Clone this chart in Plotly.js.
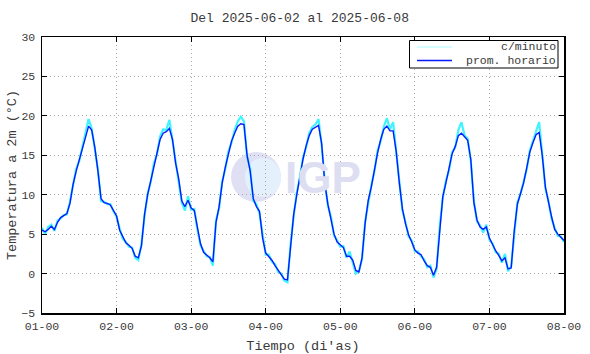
<!DOCTYPE html>
<html>
<head>
<meta charset="utf-8">
<script src="https://cdn.plot.ly/plotly-3.0.1.min.js"></script>
<style>html,body{margin:0;padding:0;background:#fff}#chart{width:590px;height:354px}</style>
</head>
<body>
<div id="chart"></div>
<script>
// Tick labels (day-hour)
const tickLabels = ["01-00","02-00","03-00","04-00","05-00","06-00","07-00","08-00"];
const tickDays = [0,1,2,3,4,5,6,7];
const seriesNames = ["c/minuto", "prom. horario"];

// Hourly mean temperature (°C), 2025-06-02 00h .. 2025-06-09 00h
const promHorario = [
 5.5,5.3,5.6,6.0,5.6,6.5,7.1,7.3,7.6,8.9,11.3,13.0,14.5,15.8,17.3,18.7,18.2,16.0,13.0,9.5,9.0,8.9,8.7,8.0,
 7.3,5.5,4.6,3.9,3.6,3.2,2.2,2.0,3.5,7.5,10.0,11.8,13.8,15.3,17.0,17.8,18.0,18.4,17.0,14.0,12.0,9.2,8.5,9.3,
 8.3,8.0,5.8,3.8,2.7,2.4,2.0,1.5,6.5,8.5,11.5,13.5,15.2,16.8,17.8,18.7,19.0,18.9,15.0,13.0,9.5,8.5,7.9,4.5,
 2.6,2.2,1.7,1.0,0.4,-0.2,-0.7,-0.8,3.5,7.5,10.0,12.4,14.5,16.2,17.5,18.3,18.6,18.8,16.5,11.5,8.8,7.0,5.0,4.0,
 3.6,3.3,2.2,2.2,1.7,0.4,0.2,2.0,6.4,9.3,11.0,13.2,15.3,17.0,18.3,18.7,18.1,18.1,15.5,11.5,8.2,6.3,4.9,4.0,
 3.0,2.6,2.4,1.6,1.0,0.8,-0.2,0.8,5.8,9.8,11.5,13.3,15.2,16.1,17.5,17.8,17.3,16.9,14.5,9.0,6.8,5.9,5.6,5.9,
 4.5,3.6,2.9,2.3,1.6,2.0,0.6,0.7,5.5,8.8,10.3,11.5,13.4,15.4,16.6,17.6,17.9,15.0,11.0,9.0,7.2,5.6,5.0,4.6,
 4.2
];

// Per-minute series (sampled), with visible spikes at peaks/troughs
const cMinuto = [
 5.8,5.0,5.9,6.2,5.4,6.7,7.0,7.4,7.5,9.1,11.2,13.3,14.3,16.0,17.6,19.6,18.4,15.8,13.2,9.2,9.1,8.8,8.8,7.9,
 7.2,5.7,4.4,4.0,3.4,3.3,2.0,1.7,3.7,7.3,10.1,11.6,14.0,15.1,17.4,18.3,18.2,19.5,16.8,14.2,11.8,9.0,8.0,9.8,
 8.1,8.2,5.6,3.6,2.9,2.2,2.1,1.0,6.7,8.3,11.7,13.3,15.5,16.6,18.2,19.3,19.9,19.3,14.8,13.3,9.2,8.8,7.6,4.7,
 2.4,2.4,1.5,1.2,0.2,0.0,-0.9,-1.1,3.7,7.3,10.3,12.2,14.7,16.0,17.8,18.6,18.9,19.6,16.3,11.7,8.6,7.2,4.8,4.2,
 3.4,3.5,2.0,2.8,1.5,0.0,0.3,1.8,6.6,9.1,11.2,13.0,15.6,16.8,18.6,19.7,18.3,19.2,15.3,11.7,8.0,6.5,4.7,4.2,
 2.8,2.8,2.2,1.8,0.8,1.0,-0.5,0.6,6.0,9.6,11.8,13.1,15.4,16.0,18.2,19.2,17.5,17.1,14.3,9.2,6.6,6.1,5.2,6.2,
 4.3,3.8,2.7,2.5,1.4,2.5,0.3,0.9,5.3,9.0,10.1,11.8,13.2,15.6,16.9,18.2,19.2,15.2,10.8,9.2,7.0,5.8,4.8,4.7,
 4.0
];

const xDias = promHorario.map((_, i) => i / 24);

const FONT = "Liberation Mono, DejaVu Sans Mono, monospace";
const TXT = "#3a3a3a";
const CYAN = "#40f4ff";
const BLUE = "#0a1aff";

const traces = [
 {x: xDias, y: cMinuto, type: "scatter", mode: "lines", name: seriesNames[0],
  line: {color: CYAN, width: 2.2}},
 {x: xDias, y: promHorario, type: "scatter", mode: "lines", name: seriesNames[1],
  line: {color: BLUE, width: 1.4}}
];

const axisCommon = {
  showline: true, linecolor: "#000", linewidth: 1.5, mirror: "ticks",
  ticks: "inside", ticklen: 5, tickcolor: "#000", tickwidth: 1,
  showgrid: true, gridcolor: "#a8a8a8", griddash: "1px,3px", gridwidth: 1,
  zeroline: false,
  tickfont: {family: FONT, size: 11.5, color: TXT}
};

// px -> paper helpers (plot area: x 42..564, y 37..313)
const px = v => (v - 42) / 522;
const py = v => (313 - v) / 276;

const layout = {
  width: 590, height: 354,
  margin: {l: 42, r: 26, t: 37, b: 41},
  paper_bgcolor: "#fff", plot_bgcolor: "#fff",
  font: {family: FONT, color: TXT},
  title: {text: "Del 2025-06-02 al 2025-06-08", font: {family: FONT, size: 13, color: TXT},
          x: 0.508, xanchor: "center", yref: "container", y: 0.952, yanchor: "middle"},
  xaxis: Object.assign({}, axisCommon, {
    range: [0, 7], tickvals: tickDays, ticktext: tickLabels, ticklabelstandoff: 2,
    title: {text: "Tiempo (di'as)", font: {family: FONT, size: 13.5, color: TXT}, standoff: 10}
  }),
  yaxis: Object.assign({}, axisCommon, {
    range: [-5, 30], tickvals: [-5,0,5,10,15,20,25,30],
    ticklabelstandoff: 3,
    title: {text: "Temperatura a 2m (°C)", font: {family: FONT, size: 13.5, color: TXT}, standoff: 1}
  }),
  showlegend: false,
  shapes: [
    // watermark globe
    {type: "circle", xref: "paper", yref: "paper", layer: "below",
     x0: px(231), x1: px(281), y0: py(202), y1: py(152),
     fillcolor: "#e0e0f4", line: {width: 0}},
    {type: "circle", xref: "paper", yref: "paper", layer: "below",
     x0: px(245), x1: px(281), y0: py(197), y1: py(158),
     fillcolor: "#e4f1fc", line: {width: 0}},
    // legend box and samples
    {type: "rect", xref: "paper", yref: "paper", layer: "above",
     x0: px(409.5), x1: px(558), y0: py(68), y1: py(40.5),
     fillcolor: "#fff", line: {color: "#000", width: 1}},
    {type: "line", xref: "paper", yref: "paper", layer: "above",
     x0: px(417), x1: px(452), y0: py(47), y1: py(47),
     line: {color: "#a8fcff", width: 1.2}},
    {type: "line", xref: "paper", yref: "paper", layer: "above",
     x0: px(417), x1: px(452), y0: py(60.5), y1: py(60.5),
     line: {color: BLUE, width: 1.3}}
  ],
  annotations: [
    {text: "<b>IGP</b>", xref: "paper", yref: "paper", x: px(323), y: py(177),
     xanchor: "center", yanchor: "middle", showarrow: false,
     font: {family: "Liberation Sans, Arial, sans-serif", size: 44, color: "#dedef3"}},
    {text: seriesNames[0], xref: "paper", yref: "paper", x: px(557), y: py(46.5),
     xanchor: "right", yanchor: "middle", showarrow: false, borderpad: 0,
     font: {family: FONT, size: 11.5, color: TXT}},
    {text: seriesNames[1], xref: "paper", yref: "paper", x: px(557), y: py(60.5),
     xanchor: "right", yanchor: "middle", showarrow: false, borderpad: 0,
     font: {family: FONT, size: 11.5, color: TXT}}
  ]
};

Plotly.newPlot("chart", traces, layout, {displayModeBar: false, staticPlot: true});
</script>
</body>
</html>
